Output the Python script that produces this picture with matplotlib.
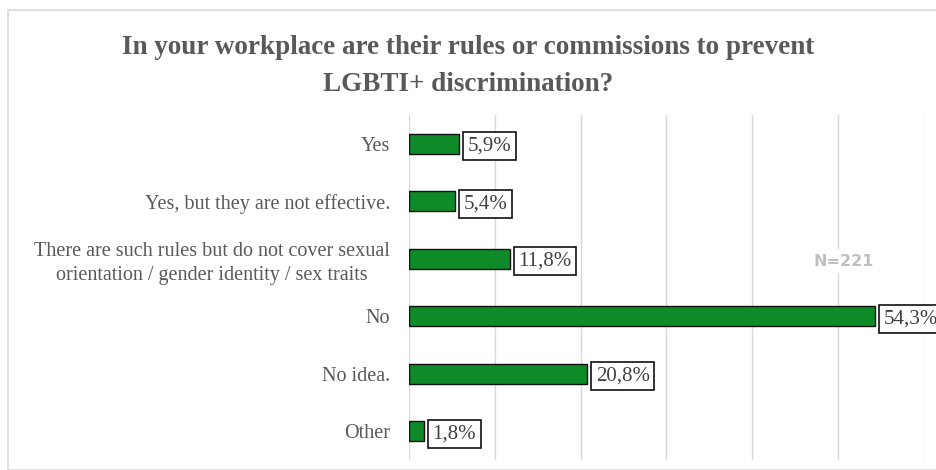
import matplotlib
matplotlib.use("Agg")
import matplotlib.pyplot as plt
from matplotlib.patches import Rectangle

# data
categories = [
    "Yes",
    "Yes, but they are not effective.",
    "There are such rules but do not cover sexual\norientation / gender identity / sex traits",
    "No",
    "No idea.",
    "Other",
]
values = [5.9, 5.4, 11.8, 54.3, 20.8, 1.8]
title = "In your workplace are their rules or commissions to prevent\nLGBTI+ discrimination?"
note = "N=221"

BAR_COLOR = "#0E8A29"
TEXT_GRAY = "#595959"

fig = plt.figure(figsize=(9.37, 4.70), dpi=100)
fig.patch.set_facecolor("white")
ax = fig.add_axes([0.4363, 0.0213, 0.5497, 0.7340])

# light border round the chart area
fig.patches.append(Rectangle((8 / 937, 0), 1, 1 - 10 / 470, transform=fig.transFigure,
                             fill=False, edgecolor="#d9d9d9", linewidth=1.2))

y_pos = list(range(len(categories)))
ax.barh(y_pos, values, height=0.35, color=BAR_COLOR, edgecolor="#111111", linewidth=1.0, zorder=3)

ax.set_xlim(0, 60)
ax.set_ylim(len(categories) - 0.5, -0.5)
ax.set_xticks(range(0, 61, 10))
ax.xaxis.grid(True, color="#d9d9d9", linewidth=1.0, zorder=0)
ax.tick_params(axis="x", bottom=False, labelbottom=False)
ax.tick_params(axis="y", left=False, pad=10)
ax.set_yticks(y_pos)
ax.set_yticklabels(categories, fontsize=14.5, family="Liberation Serif", color=TEXT_GRAY,
                   linespacing=1.35)
for lbl in ax.get_yticklabels():
    lbl.set_horizontalalignment("right")
    lbl.set_multialignment("center")
for side in ax.spines.values():
    side.set_visible(False)

# value labels in boxes
for y, v in zip(y_pos, values):
    ax.annotate(f"{v:.1f}%".replace(".", ","), xy=(v, y), xytext=(6, 0),
                textcoords="offset points", va="center_baseline", ha="left",
                fontsize=15, family="Liberation Serif", color="#404040",
                bbox=dict(boxstyle="square,pad=0.22", fc="white", ec="#111111", lw=1.2),
                annotation_clip=False, zorder=4)

fig.text(844 / 937, 1 - 261 / 470, note, ha="center", va="center", fontsize=11.5,
         fontweight="bold", color="#bfbfbf", family="DejaVu Sans",
         bbox=dict(boxstyle="square,pad=0.3", fc="white", ec="none"))

fig.text(0.5, 1 - 66 / 470, title, ha="center", va="center", fontsize=19.5,
         fontweight="bold", color=TEXT_GRAY, family="Liberation Serif", linespacing=1.6)

fig.savefig("out.png", dpi=100)
